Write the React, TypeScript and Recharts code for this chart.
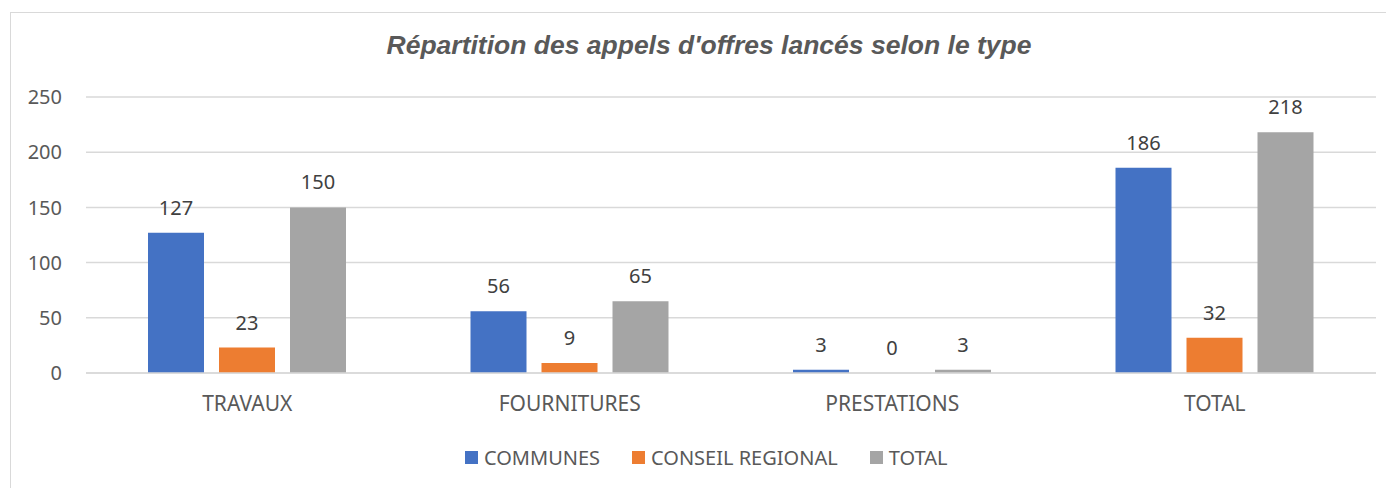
import { BarChart, Bar, XAxis, YAxis, CartesianGrid, LabelList } from "recharts";

const categories = ["TRAVAUX", "FOURNITURES", "PRESTATIONS", "TOTAL"];
const communes = [127, 56, 3, 186];
const conseilRegional = [23, 9, 0, 32];
const total = [150, 65, 3, 218];
const yTicks = [0, 50, 100, 150, 200, 250];

const series = [
  { key: "communes", name: "COMMUNES", color: "#4472c4" },
  { key: "conseil", name: "CONSEIL REGIONAL", color: "#ed7d31" },
  { key: "total", name: "TOTAL", color: "#a5a5a5" },
];

const data = categories.map((c, i) => ({
  name: c,
  communes: communes[i],
  conseil: conseilRegional[i],
  total: total[i],
}));

const FONT = "'Noto Sans', 'Open Sans', sans-serif";

export default function App() {
  return (
    <div style={{ width: 1386, height: 480, overflow: "hidden", position: "relative" }}>
      <div
        style={{
          position: "absolute",
          left: 2,
          top: 4,
          width: 1386,
          height: 520,
          border: "1px solid #d9d9d9",
          background: "#fff",
        }}
      >
        <div
          style={{
            position: "absolute",
            top: 17,
            left: 0,
            width: 1396,
            textAlign: "center",
            fontFamily: "'Liberation Sans', Arial, sans-serif",
            fontStyle: "italic",
            fontWeight: "bold",
            fontSize: 26.5,
            color: "#595959",
          }}
        >
          Répartition des appels d'offres lancés selon le type
        </div>
        <BarChart
          width={1400}
          height={440}
          data={data}
          margin={{ top: 84, right: 35, left: 0, bottom: 0 }}
          barCategoryGap={62}
          barGap={15}
        >
          <CartesianGrid vertical={false} stroke="#d9d9d9" strokeWidth={1.5} />
          <XAxis
            dataKey="name"
            height={80}
            axisLine={{ stroke: "#d9d9d9", strokeWidth: 1.5 }}
            tickLine={false}
            tickSize={0}
            tickMargin={23}
            tick={{ fontSize: 21, fill: "#595959", fontFamily: FONT }}
          />
          <YAxis
            width={75}
            domain={[0, 250]}
            ticks={yTicks}
            axisLine={false}
            tickLine={false}
            tickSize={0}
            tickMargin={24}
            tick={{ fontSize: 20, fill: "#595959", fontFamily: FONT }}
          />
          {series.map((s) => (
            <Bar
              key={s.key}
              dataKey={s.key}
              name={s.name}
              fill={s.color}
              minPointSize={0.01}
              isAnimationActive={false}
            >
              <LabelList
                dataKey={s.key}
                position="top"
                offset={18}
                style={{ fontSize: 20, fill: "#404040", fontFamily: FONT }}
              />
            </Bar>
          ))}
        </BarChart>
        <div
          style={{
            position: "absolute",
            top: 431,
            left: 454,
            display: "flex",
            alignItems: "center",
            fontFamily: FONT,
            fontSize: 20,
            color: "#595959",
          }}
        >
          {series.map((s) => (
            <div key={s.key} style={{ display: "flex", alignItems: "center", marginRight: 32 }}>
              <span style={{ width: 13, height: 13, background: s.color, marginRight: 6, display: "inline-block" }} />
              <span>{s.name}</span>
            </div>
          ))}
        </div>
      </div>
    </div>
  );
}
